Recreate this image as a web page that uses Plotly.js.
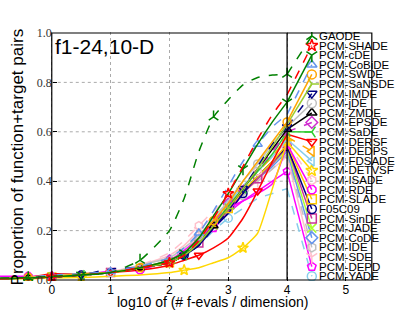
<!DOCTYPE html>
<html>
<head>
<meta charset="utf-8">
<script src="https://cdn.plot.ly/plotly-3.0.1.min.js"></script>
<style>html,body{margin:0;padding:0;background:#fff;}#chart{width:415px;height:312px;}</style>
</head>
<body>
<div id="chart"></div>
<script>
// log10(# f-evals / dimension) grid at which the ECDF curves were read
const xGrid = [-0.88, -0.4, 0, 0.5, 1, 1.5, 2, 2.25, 2.5, 2.75, 3, 3.25, 3.5, 3.75, 4];

const names = ["GAODE","PCM-SHADE","PCM-cDE","PCM-CoBiDE","PCM-SWDE","PCM-SaNSDE","PCM-IMDE","PCM-jDE",
  "PCM-ZMDE","PCM-EPSDE","PCM-SaDE","PCM-DERSF","PCM-DEDPS","PCM-FDSADE","PCM-DETVSF","PCM-ISADE",
  "PCM-RDE","PCM-SLADE","F05C09","PCM-SinDE","PCM-JADE","PCM-CoDE","PCM-IDE","PCM-SDE","PCM-DEPD","PCM-YADE"];

// proportion of function+target pairs at each xGrid value
const gaode  = [0.008,0.01,0.015,0.02,0.03,0.08,0.2,0.33,0.52,0.66,0.73,0.79,0.82,0.83,0.833];
const shade  = [0.005,0.008,0.012,0.02,0.03,0.05,0.07,0.1,0.16,0.25,0.35,0.46,0.57,0.67,0.75];
const cde    = [0.005,0.008,0.012,0.02,0.03,0.05,0.08,0.11,0.17,0.26,0.35,0.45,0.55,0.64,0.72];
const cobide = [0.006,0.01,0.02,0.025,0.035,0.055,0.09,0.13,0.19,0.28,0.38,0.48,0.55,0.62,0.67];
const swde   = [0.005,0.01,0.015,0.025,0.03,0.05,0.08,0.11,0.17,0.24,0.31,0.4,0.48,0.56,0.64];
const sansde = [0.005,0.008,0.012,0.02,0.03,0.05,0.07,0.1,0.15,0.22,0.29,0.37,0.45,0.54,0.63];
const imde   = [0.005,0.008,0.012,0.02,0.045,0.05,0.07,0.1,0.14,0.21,0.28,0.37,0.46,0.55,0.62];
const jde    = [0.006,0.01,0.02,0.025,0.03,0.06,0.09,0.13,0.18,0.25,0.32,0.4,0.47,0.55,0.62];
const zmde   = [0.005,0.008,0.012,0.02,0.03,0.05,0.07,0.1,0.15,0.22,0.29,0.37,0.45,0.53,0.61];
const epsde  = [0.005,0.008,0.012,0.02,0.03,0.05,0.08,0.11,0.16,0.23,0.31,0.38,0.45,0.52,0.6];
const sade   = [0.005,0.008,0.012,0.02,0.03,0.05,0.07,0.1,0.15,0.22,0.3,0.37,0.44,0.51,0.6];
const dersf  = [0.005,0.01,0.025,0.025,0.03,0.04,0.06,0.08,0.1,0.13,0.17,0.25,0.36,0.48,0.59];
const dedps  = [0.005,0.008,0.012,0.025,0.03,0.05,0.07,0.1,0.16,0.23,0.31,0.38,0.44,0.5,0.58];
const fdsade = [0.005,0.008,0.012,0.02,0.03,0.05,0.08,0.11,0.17,0.24,0.31,0.38,0.44,0.5,0.57];
const detvsf = [0.004,0.005,0.008,0.01,0.015,0.02,0.03,0.04,0.05,0.07,0.09,0.13,0.19,0.37,0.56];
const isade  = [0.005,0.008,0.012,0.02,0.035,0.06,0.11,0.16,0.22,0.28,0.33,0.38,0.44,0.5,0.56];
const rde    = [0.015,0.015,0.015,0.02,0.035,0.04,0.08,0.12,0.17,0.23,0.29,0.32,0.35,0.39,0.55];
const slade  = [0.005,0.008,0.012,0.025,0.03,0.05,0.07,0.1,0.15,0.22,0.29,0.36,0.42,0.48,0.55];
const f05c09 = [0.005,0.008,0.012,0.02,0.03,0.05,0.07,0.1,0.14,0.21,0.27,0.35,0.42,0.48,0.54];
const sinde  = [0.005,0.008,0.012,0.02,0.03,0.05,0.07,0.1,0.15,0.22,0.28,0.35,0.41,0.47,0.54];
const jade   = [0.005,0.008,0.012,0.02,0.03,0.05,0.07,0.1,0.15,0.22,0.28,0.35,0.41,0.47,0.53];
const code   = [0.005,0.008,0.012,0.02,0.03,0.05,0.08,0.11,0.16,0.23,0.29,0.36,0.41,0.46,0.52];
const ide    = [0.005,0.012,0.015,0.02,0.03,0.05,0.07,0.1,0.15,0.22,0.28,0.34,0.4,0.45,0.51];
const sde    = [0.005,0.008,0.012,0.02,0.035,0.06,0.1,0.14,0.2,0.26,0.31,0.36,0.4,0.45,0.5];
const depd   = [0.005,0.008,0.012,0.02,0.03,0.05,0.07,0.1,0.15,0.21,0.27,0.32,0.36,0.4,0.44];
const yade   = [0.005,0.008,0.012,0.025,0.03,0.05,0.07,0.1,0.14,0.2,0.25,0.29,0.33,0.35,0.37];

const seriesY = [gaode,shade,cde,cobide,swde,sansde,imde,jde,zmde,epsde,sade,dersf,dedps,fdsade,
  detvsf,isade,rde,slade,f05c09,sinde,jade,code,ide,sde,depd,yade];

const xTicks = [0,1,2,3,4,5];
const yTicks = [0,0.2,0.4,0.6,0.8,1.0];
const yTickText = ["0.0","0.2","0.4","0.6","0.8","1.0"];

// styles
const styles = [
  ["#008000","dash","y-up-open"],
  ["#ff0000","dash","star-open"],
  ["#008000","solid","y-down-open"],
  ["#6495ed","dash","triangle-up-open"],
  ["#ffa500","solid","circle-open"],
  ["#9acd32","solid","y-right-open"],
  ["#000080","dash","triangle-down-open"],
  ["#c0c0c0","solid","circle-open"],
  ["#000000","solid","triangle-up-open"],
  ["#d02ed0","dash","diamond-open"],
  ["#32cd32","solid","y-left-open"],
  ["#ff0000","solid","triangle-down-open"],
  ["#ffa500","dash","triangle-left-open"],
  ["#87ceeb","solid","triangle-left-open"],
  ["#ffd700","solid","star-open"],
  ["#ffc0cb","dash","hexagon-open"],
  ["#ff00ff","solid","octagon-open"],
  ["#ffc800","solid","square-open"],
  ["#000080","solid","circle-open"],
  ["#cc3399","solid","square-open"],
  ["#adff2f","solid","x-thin-open"],
  ["#6495ed","solid","diamond-open"],
  ["#c0c0c0","dash","hexagon-open"],
  ["#ffc0cb","solid","y-down-open"],
  ["#ff00ff","solid","pentagon-open"],
  ["#87ceeb","dash","circle-open"]
];

const n = names.length;
const labelTop = 0.988, labelStep = 0.0389;
const legX = 4.42, textX = 4.5;

const traces = [];
const annotations = [];
for (let i = n - 1; i >= 0; i--) {
  const [col, dash, sym] = styles[i];
  const y = seriesY[i];
  const ly = labelTop - i * labelStep;
  const off = i % 4;
  const mk = [off + 1, off + 5, off + 9];
  if (i % 2 === 0) mk.push(14);
  const opac = xGrid.map((_, k) => mk.includes(k) ? 1 : 0);
  traces.push({
    x: xGrid, y: y, mode: "lines+markers", hoverinfo: "skip",
    line: {color: col, width: 1.5, dash: dash, shape: "spline", smoothing: 0.5},
    marker: {symbol: sym, size: 8, color: col, opacity: opac, line: {color: col, width: 1.5}}
  });
  traces.push({
    x: [xGrid[xGrid.length - 1], legX], y: [y[y.length - 1], ly], mode: "lines+markers", hoverinfo: "skip",
    line: {color: col, width: 1.5, dash: dash},
    marker: {symbol: sym, size: 9, color: col, opacity: [0, 1], line: {color: col, width: 1.5}}
  });
  annotations.push({
    xref: "x", yref: "y", x: textX, y: ly, text: names[i], showarrow: false,
    xanchor: "left", yanchor: "middle",
    font: {family: "Liberation Sans, Arial, sans-serif", size: 11.5, color: "#000"}
  });
}

annotations.push({
  xref: "x", yref: "y", x: 0.02, y: 0.998, text: "f1-24,10-D", showarrow: false,
  xanchor: "left", yanchor: "top",
  font: {family: "Liberation Sans, Arial, sans-serif", size: 21, color: "#000"}
});
annotations.push({
  xref: "paper", yref: "paper", x: 0.048, y: 0.5, text: "Proportion of function+target pairs",
  showarrow: false, textangle: -90, xanchor: "center", yanchor: "middle",
  font: {family: "Liberation Sans, Arial, sans-serif", size: 17, color: "#000"}
});
annotations.push({
  xref: "paper", yref: "paper", x: 0.569, y: -0.084, text: "log10 of (# f-evals / dimension)",
  showarrow: false, xanchor: "center", yanchor: "middle",
  font: {family: "Liberation Sans, Arial, sans-serif", size: 14, color: "#000"}
});

const xMax = 5.44;
const shapes = [];
[0.2, 0.4, 0.6, 0.8].forEach(v => shapes.push({
  type: "line", xref: "x", yref: "y", x0: 0, x1: xMax, y0: v, y1: v, layer: "below",
  line: {color: "#aaaaaa", width: 1, dash: "dot"}
}));
shapes.push({type: "rect", xref: "x", yref: "y", x0: 0, x1: xMax, y0: 0, y1: 1,
  line: {color: "#000", width: 1.2}, layer: "above"});
shapes.push({type: "line", xref: "x", yref: "y", x0: 4, x1: 4, y0: 0, y1: 1,
  line: {color: "#000", width: 1.3}, layer: "above"});

const layout = {
  width: 415, height: 312,
  margin: {l: 0, r: 42, t: 32, b: 31},
  paper_bgcolor: "#fff", plot_bgcolor: "#fff",
  showlegend: false,
  xaxis: {
    range: [-0.88, 5.46], tickvals: xTicks, ticktext: xTicks.map(String),
    showgrid: true, gridcolor: "#aaaaaa", griddash: "dot", gridwidth: 1,
    zeroline: false, showline: false, ticks: "inside", ticklen: 4, tickcolor: "#000",
    tickfont: {family: "Liberation Sans, Arial, sans-serif", size: 12, color: "#000"}
  },
  yaxis: {
    range: [-0.004, 1.004], anchor: "free", position: 0.1389,
    tickvals: yTicks, ticktext: yTickText,
    showgrid: false, zeroline: false, showline: false, ticks: "inside", ticklen: 4, tickcolor: "#000",
    tickfont: {family: "Liberation Serif, 'DejaVu Serif', serif", size: 12, color: "#333"}
  },
  shapes: shapes,
  annotations: annotations
};

Plotly.newPlot("chart", traces, layout, {staticPlot: true, displayModeBar: false});
</script>
</body>
</html>
